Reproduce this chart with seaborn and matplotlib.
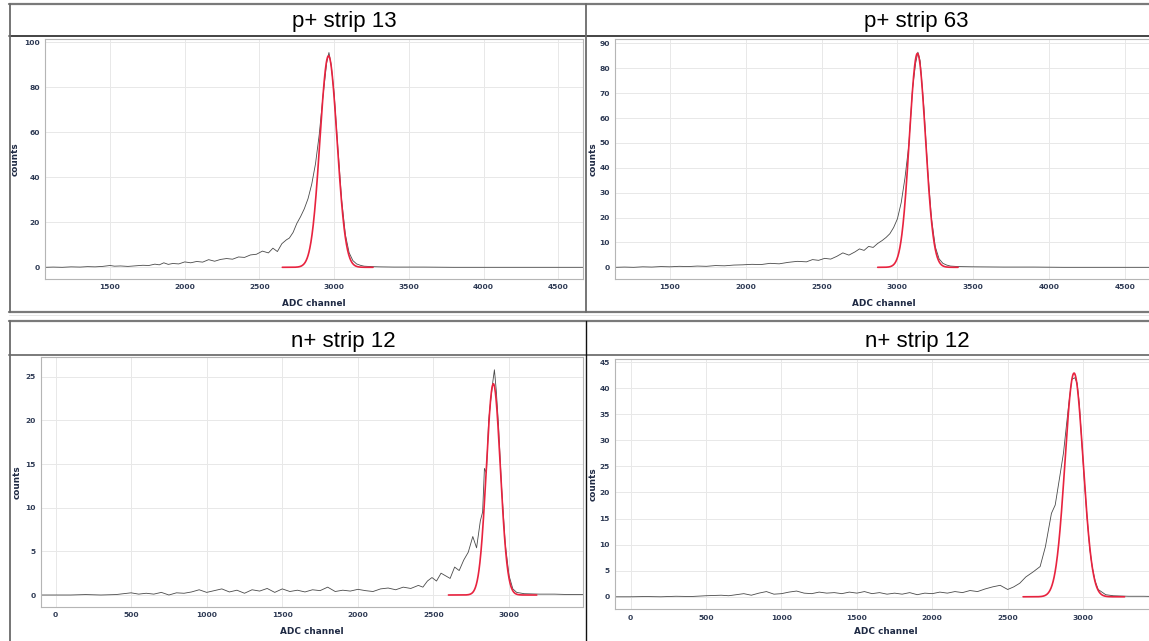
import numpy as np
import matplotlib
matplotlib.use("Agg")
import matplotlib.pyplot as plt
from matplotlib.lines import Line2D
import seaborn as sns

sns.set_theme(style="white")
plt.rcParams["font.family"] = ["DejaVu Sans"]

W, H = 1149, 641

# ---------------------------------------------------------------- data
titles = ["p+ strip 13", "p+ strip 63", "n+ strip 12", "n+ strip 12"]

# p+ strip 13 : ADC spectrum
p13_adc = [1065, 1120, 1180, 1240, 1300, 1350, 1400, 1450, 1500, 1530, 1570, 1620,
           1680, 1720, 1760, 1800, 1830, 1860, 1890, 1920, 1960, 2000, 2040, 2080,
           2120, 2160, 2200, 2240, 2280, 2320, 2360, 2400, 2440, 2480, 2520, 2560,
           2590, 2620, 2650, 2680, 2700, 2725, 2750, 2775, 2800, 2825, 2850, 2875,
           2900, 2925, 2950, 2965, 2980, 3000, 3025, 3050, 3075, 3100, 3125, 3150,
           3175, 3200, 3250, 3300, 3400, 3600, 3800, 4000, 4200, 4400, 4665]
p13_counts = [0.0, 0.1, 0.0, 0.2, 0.1, 0.3, 0.2, 0.4, 0.8, 0.5, 0.6, 0.4,
              0.7, 0.9, 0.8, 1.4, 1.1, 2.0, 1.3, 1.7, 1.5, 2.4, 2.0, 2.6,
              2.3, 3.4, 2.7, 3.5, 3.9, 3.6, 4.6, 4.4, 5.5, 5.8, 7.2, 6.4,
              8.5, 7.0, 10.5, 12.2, 13.0, 15.5, 19.5, 22.5, 26.0, 30.5, 37.0, 46.0,
              59.0, 76.0, 91.0, 95.5, 90.0, 77.0, 53.0, 30.0, 14.5, 6.5, 3.0, 1.5,
              0.9, 0.5, 0.3, 0.2, 0.1, 0.1, 0.0, 0.0, 0.0, 0.0, 0.0]

# p+ strip 63 : ADC spectrum
p63_adc = [1137, 1200, 1260, 1320, 1380, 1440, 1500, 1560, 1620, 1680, 1740, 1800,
           1860, 1920, 1980, 2040, 2100, 2160, 2220, 2280, 2340, 2400, 2440, 2480,
           2520, 2560, 2600, 2640, 2680, 2720, 2750, 2780, 2810, 2840, 2870, 2900,
           2925, 2950, 2975, 3000, 3025, 3050, 3075, 3100, 3120, 3135, 3150, 3175,
           3200, 3225, 3250, 3275, 3300, 3325, 3350, 3400, 3500, 3700, 3900, 4100,
           4300, 4500, 4690]
p63_counts = [0.0, 0.1, 0.0, 0.2, 0.1, 0.3, 0.2, 0.4, 0.3, 0.5, 0.4, 0.7,
              0.6, 0.9, 1.0, 1.2, 1.1, 1.6, 1.4, 2.0, 2.4, 2.2, 3.1, 2.8,
              3.6, 3.3, 4.4, 5.8, 4.9, 6.2, 7.4, 6.8, 8.4, 8.0, 9.6, 10.8,
              12.0, 13.5, 16.0, 19.5, 26.0, 36.0, 49.0, 72.0, 82.0, 86.5, 83.0, 64.0,
              39.0, 19.5, 8.2, 3.4, 1.6, 0.9, 0.5, 0.3, 0.2, 0.1, 0.1, 0.0,
              0.0, 0.0, 0.0]

# n+ strip 12 (left) : ADC spectrum
n12a_adc = [-98, 0, 100, 200, 300, 400, 450, 500, 550, 600, 650, 700,
            750, 800, 850, 900, 950, 1000, 1050, 1100, 1150, 1200, 1250, 1300,
            1350, 1400, 1450, 1500, 1550, 1600, 1650, 1700, 1750, 1800, 1850, 1900,
            1950, 2000, 2050, 2100, 2150, 2200, 2250, 2300, 2350, 2400, 2430, 2460,
            2490, 2520, 2550, 2580, 2610, 2640, 2670, 2700, 2730, 2760, 2785, 2810,
            2825, 2837, 2850, 2865, 2880, 2893, 2903, 2915, 2930, 2950, 2975, 3000,
            3025, 3050, 3100, 3200, 3300, 3400, 3490]
n12a_counts = [0.0, 0.0, 0.0, 0.05, 0.0, 0.05, 0.15, 0.25, 0.1, 0.2, 0.1, 0.3,
               0.0, 0.25, 0.2, 0.35, 0.6, 0.3, 0.5, 0.7, 0.35, 0.55, 0.2, 0.6,
               0.45, 0.75, 0.3, 0.7, 0.4, 0.55, 0.35, 0.6, 0.5, 0.9, 0.4, 0.55,
               0.45, 0.65, 0.5, 0.4, 0.7, 0.8, 0.6, 0.9, 0.75, 1.1, 0.9, 1.6,
               2.0, 1.6, 2.5, 2.2, 1.9, 3.2, 2.8, 4.0, 4.9, 6.7, 5.4, 8.5,
               9.5, 14.5, 14.0, 20.0, 22.5, 24.5, 25.8, 23.5, 19.5, 12.5, 5.8, 2.2,
               0.7, 0.3, 0.15, 0.1, 0.1, 0.05, 0.05]

# n+ strip 12 (right) : ADC spectrum
n12b_adc = [-104, 0, 100, 200, 300, 400, 500, 600, 650, 700, 750, 800,
            850, 900, 950, 1000, 1050, 1100, 1150, 1200, 1250, 1300, 1350, 1400,
            1450, 1500, 1550, 1600, 1650, 1700, 1750, 1800, 1850, 1900, 1950, 2000,
            2050, 2100, 2150, 2200, 2250, 2300, 2350, 2400, 2450, 2500, 2540, 2580,
            2620, 2670, 2715, 2750, 2790, 2815, 2845, 2870, 2890, 2905, 2925, 2945,
            2960, 2975, 2993, 3010, 3027, 3045, 3060, 3080, 3100, 3150, 3200, 3300,
            3400, 3490]
n12b_counts = [0.0, 0.0, 0.05, 0.0, 0.1, 0.05, 0.2, 0.3, 0.2, 0.4, 0.6, 0.3,
               0.7, 1.0, 0.5, 0.6, 0.9, 1.1, 0.7, 0.6, 0.9, 0.7, 0.8, 0.6,
               0.9, 0.7, 1.0, 0.6, 0.8, 0.5, 0.7, 0.5, 0.8, 0.4, 0.7, 0.6,
               0.9, 0.7, 1.0, 0.8, 1.2, 1.0, 1.5, 1.9, 2.2, 1.4, 1.9, 2.6,
               3.8, 4.8, 5.8, 9.6, 16.0, 17.6, 23.0, 27.6, 33.0, 37.0, 41.7, 42.0,
               41.0, 37.0, 29.0, 21.5, 15.0, 9.0, 5.8, 3.0, 1.4, 0.4, 0.2, 0.1,
               0.1, 0.05]

# Gaussian fits to the main peak: amplitude, centroid, sigma, fit range
fit_amp = [94.0, 86.0, 24.2, 42.9]
fit_mean = [2962, 3132, 2896, 2940]
fit_sigma = [57, 53, 46, 60]
fit_lo = [2653, 2870, 2599, 2602]
fit_hi = [3260, 3400, 3183, 3275]

spectra = [(p13_adc, p13_counts), (p63_adc, p63_counts),
           (n12a_adc, n12a_counts), (n12b_adc, n12b_counts)]

# ---------------------------------------------------------------- layout (pixels)
# left, top, right, bottom of each plotting area
rects = [(45, 39, 583, 279), (615, 39, 1153, 279),
         (40.7, 356.7, 582.7, 606.7), (615, 359, 1157, 609.3)]
xlims = [(1065, 4665), (1137, 4686), (-98, 3487), (-104, 3490)]
ylims = [(-5.2, 101.5), (-4.7, 91.8), (-1.34, 27.3), (-2.4, 45.6)]
xticks = [np.arange(1500, 4501, 500), np.arange(1500, 4501, 500),
          np.arange(0, 3001, 500), np.arange(0, 3001, 500)]
yticks = [np.arange(0, 101, 20), np.arange(0, 91, 10),
          np.arange(0, 26, 5), np.arange(0, 46, 5)]
ylabel_x = [15, 593, 17, 593]
xlabel_y = [303, 303, 632, 632]
title_pos = [(344, 21), (916, 21), (343, 342), (917, 342)]

TICK_COLOR = "#2f3b55"
LABEL_COLOR = "#1f2a44"

fig = plt.figure(figsize=(W / 100, H / 100), dpi=100)
fig.patch.set_facecolor("white")


def hline(y, x0, x1, color, lw):
    fig.add_artist(Line2D([x0 / W, x1 / W], [1 - y / H, 1 - y / H],
                          transform=fig.transFigure, color=color, lw=lw))


def vline(x, y0, y1, color, lw):
    fig.add_artist(Line2D([x / W, x / W], [1 - y0 / H, 1 - y1 / H],
                          transform=fig.transFigure, color=color, lw=lw))


for i in range(4):
    l, t, r, b = rects[i]
    ax = fig.add_axes([l / W, 1 - b / H, (r - l) / W, (b - t) / H])
    ax.set_facecolor("white")

    adc, counts = spectra[i]
    sns.lineplot(x=adc, y=counts, ax=ax, color="#4a4a4a", linewidth=0.6,
                 estimator=None, sort=False)

    fx = np.linspace(fit_lo[i], fit_hi[i], 400)
    fy = fit_amp[i] * np.exp(-0.5 * ((fx - fit_mean[i]) / fit_sigma[i]) ** 2)
    sns.lineplot(x=fx, y=fy, ax=ax, color="#e8233f", linewidth=1.2,
                 estimator=None, sort=False)

    ax.set_xlim(*xlims[i])
    ax.set_ylim(*ylims[i])
    ax.set_xticks(xticks[i])
    ax.set_yticks(yticks[i])
    ax.grid(True, color="#e8e8e8", lw=0.7)
    ax.set_axisbelow(True)
    for s in ax.spines.values():
        s.set_color("#b5b5b5")
        s.set_linewidth(0.8)
    ax.tick_params(length=2, width=0.6, color="#9a9a9a", labelsize=5.4,
                   labelcolor=TICK_COLOR, pad=1.8)
    for lbl in ax.get_xticklabels() + ax.get_yticklabels():
        lbl.set_fontweight("bold")

    ax.set_xlabel("ADC channel", fontsize=6.4, fontweight="bold", color=LABEL_COLOR)
    ax.set_ylabel("counts", fontsize=6.4, fontweight="bold", color=LABEL_COLOR)
    ax.xaxis.set_label_coords(0.5, -(xlabel_y[i] - b) / (b - t))
    ax.xaxis.label.set_va("center")
    ax.yaxis.set_label_coords((ylabel_x[i] - l) / (r - l), 0.5)
    ax.yaxis.label.set_va("center")

    tx, ty = title_pos[i]
    fig.text(tx / W, 1 - ty / H, titles[i], ha="center", va="center",
             fontsize=16, family=["Liberation Sans", "DejaVu Sans"], color="black")

# table frame around the four cells
hline(4, 9, W, "#7a7a7a", 1.6)
hline(36, 9, W, "#111111", 1.1)
hline(311.7, 9, W, "#7a7a7a", 1.6)
hline(314.5, 9, W, "#e2e2e2", 0.6)
hline(321, 9, W, "#7a7a7a", 1.6)
hline(355, 9, W, "#7a7a7a", 1.4)
vline(9.5, 4, 311.7, "#6a6a6a", 1.3)
vline(9.5, 321, H, "#6a6a6a", 1.3)
vline(585.7, 4, 311.7, "#6a6a6a", 1.3)
vline(585.7, 321, H, "#111111", 1.0)

fig.savefig("out.png", dpi=100, facecolor="white")
